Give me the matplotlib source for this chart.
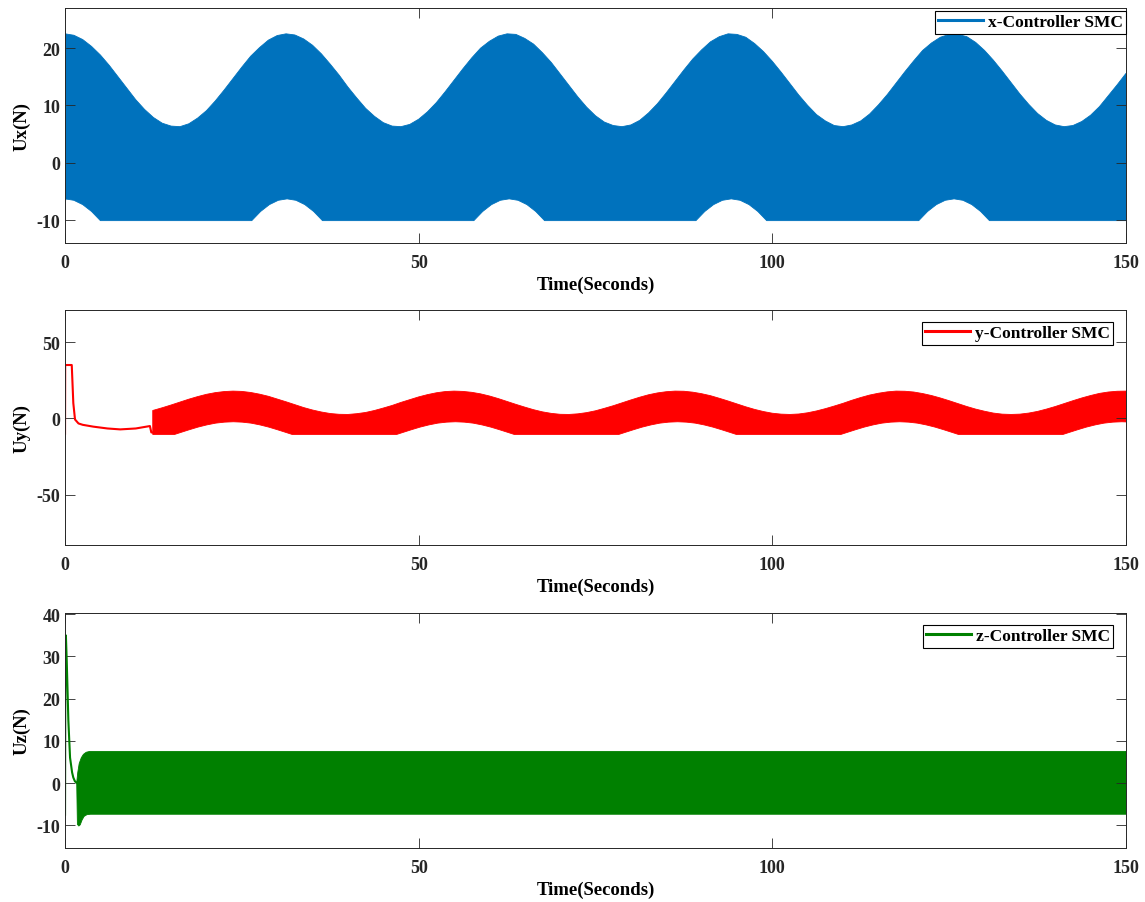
import numpy as np
import matplotlib
matplotlib.use('Agg')
import matplotlib.pyplot as plt
from matplotlib.lines import Line2D

plt.rcParams['font.family'] = ['Liberation Serif', 'DejaVu Serif']
plt.rcParams['font.weight'] = 'bold'
plt.rcParams['font.size'] = 13
plt.rcParams['axes.labelsize'] = 13.5
plt.rcParams['axes.labelweight'] = 'bold'
plt.rcParams['axes.unicode_minus'] = False
plt.rcParams['xtick.direction'] = 'in'
plt.rcParams['ytick.direction'] = 'in'
plt.rcParams['xtick.top'] = True
plt.rcParams['ytick.right'] = True
plt.rcParams['xtick.major.size'] = 7
plt.rcParams['ytick.major.size'] = 7
plt.rcParams['xtick.major.width'] = 0.6
plt.rcParams['ytick.major.width'] = 0.6
plt.rcParams['xtick.major.pad'] = 8
plt.rcParams['axes.linewidth'] = 0.7
plt.rcParams['axes.edgecolor'] = '#262626'
plt.rcParams['xtick.color'] = '#262626'
plt.rcParams['ytick.color'] = '#262626'

# ---- x controller: chattering band, upper / lower envelopes ----
tx_up = np.arange(0, 150.01, 1.25)
ux_up = [22.5, 22.25, 21.5, 20.3, 18.8, 17.0, 15.0, 13.0, 11.0, 9.3, 7.9, 6.9, 6.4,
         6.3, 6.8, 7.8, 9.1, 10.8, 12.7, 14.7, 16.7, 18.6, 20.1, 21.4, 22.2, 22.5,
         22.3, 21.6, 20.5, 19.0, 17.2, 15.3, 13.2, 11.3, 9.5, 8.1, 7.0, 6.4, 6.3,
         6.7, 7.6, 8.9, 10.5, 12.4, 14.4, 16.4, 18.3, 20.0, 21.2, 22.1, 22.5, 22.4,
         21.7, 20.7, 19.2, 17.5, 15.5, 13.5, 11.5, 9.7, 8.2, 7.1, 6.5, 6.3, 6.6,
         7.4, 8.7, 10.3, 12.2, 14.2, 16.2, 18.1, 19.7, 21.1, 22.0, 22.5, 22.4, 21.9,
         20.8, 19.4, 17.7, 15.8, 13.8, 11.8, 10.0, 8.4, 7.3, 6.5, 6.3, 6.6, 7.3,
         8.5, 10.1, 11.9, 13.9, 15.9, 17.8, 19.6, 20.9, 21.9, 22.4, 22.4, 22.0,
         21.0, 19.6, 17.9, 16.0, 14.0, 12.0, 10.2, 8.6, 7.4, 6.6, 6.3, 6.5, 7.2,
         8.3, 9.8, 11.7, 13.6, 15.6]
tx_lo = [0, 1.25, 2.5, 3.75, 5.0,
         26.4, 27.65, 28.9, 30.15, 31.4, 32.65, 33.9, 35.15, 36.4,
         57.8, 59.05, 60.3, 61.55, 62.8, 64.05, 65.3, 66.55, 67.8,
         89.2, 90.45, 91.7, 92.95, 94.2, 95.45, 96.7, 97.95, 99.2,
         120.7, 121.95, 123.2, 124.45, 125.7, 126.95, 128.2, 129.45, 130.7,
         150]
ux_lo = [-6.3, -6.55, -7.3, -8.5, -10.1,
         -10.1, -8.5, -7.3, -6.55, -6.3, -6.55, -7.3, -8.5, -10.1,
         -10.1, -8.5, -7.3, -6.55, -6.3, -6.55, -7.3, -8.5, -10.1,
         -10.1, -8.5, -7.3, -6.55, -6.3, -6.55, -7.3, -8.5, -10.1,
         -10.1, -8.5, -7.3, -6.55, -6.3, -6.55, -7.3, -8.5, -10.1,
         -10.1]

# ---- y controller: initial transient then chattering band ----
ty_init = [0, 0.02, 0.95, 1.17, 1.41, 1.9, 2.5, 4.0, 6.0, 7.8, 10.0, 11.5, 12.0, 12.2, 12.4]
uy_init = [-10, 35, 35, 10, -0.7, -3.3, -4.2, -5.4, -6.6, -7.2, -6.6, -5.4, -5.0, -9.2, -9.2]
ty_up = np.r_[12.4, np.arange(13.75, 150.01, 1.25)]
uy_up = [5.2, 7.0, 8.8, 10.7, 12.6, 14.3, 15.8, 16.9, 17.6, 17.9, 17.7, 17.0, 15.9,
         14.5, 12.7, 10.9, 9.0, 7.1, 5.5, 4.2, 3.2, 2.7, 2.6, 3.1, 3.9, 5.2, 6.8, 8.5,
         10.5, 12.3, 14.1, 15.6, 16.8, 17.6, 17.9, 17.7, 17.1, 16.1, 14.7, 13.0, 11.1,
         9.2, 7.4, 5.7, 4.3, 3.3, 2.7, 2.6, 3.0, 3.8, 5.0, 6.6, 8.3, 10.2, 12.1, 13.9,
         15.5, 16.7, 17.5, 17.9, 17.8, 17.2, 16.2, 14.9, 13.2, 11.4, 9.5, 7.6, 5.9,
         4.5, 3.4, 2.8, 2.6, 2.9, 3.7, 4.9, 6.4, 8.1, 9.9, 11.9, 13.7, 15.3, 16.5,
         17.4, 17.9, 17.8, 17.3, 16.3, 15.0, 13.4, 11.6, 9.7, 7.8, 6.1, 4.7, 3.5, 2.8,
         2.6, 2.8, 3.5, 4.6, 6.1, 7.8, 9.7, 11.6, 13.4, 15.0, 16.4, 17.3, 17.8, 17.9]
ty_lo = [12.4, 15.5, 16.3, 17.55, 18.8, 20.05, 21.3, 22.55, 23.8, 25.05, 26.3, 27.55, 28.8, 30.05, 31.3, 32.1,
         46.9, 47.7, 48.95, 50.2, 51.45, 52.7, 53.95, 55.2, 56.45, 57.7, 58.95, 60.2, 61.45, 62.7, 63.5,
         78.3, 79.1, 80.35, 81.6, 82.85, 84.1, 85.35, 86.6, 87.85, 89.1, 90.35, 91.6, 92.85, 94.1, 94.9,
         109.7, 110.5, 111.75, 113.0, 114.25, 115.5, 116.75, 118.0, 119.25, 120.5, 121.75, 123.0, 124.25, 125.5, 126.3,
         141.1, 141.9, 143.15, 144.4, 145.65, 146.9, 148.15, 149.4, 150]
uy_lo = [-10.5, -10.5, -9.3, -7.45, -5.7, -4.25, -3.1, -2.45, -2.2, -2.45, -3.1, -4.25, -5.7, -7.45, -9.3, -10.5,
         -10.5, -9.3, -7.45, -5.7, -4.25, -3.1, -2.45, -2.2, -2.45, -3.1, -4.25, -5.7, -7.45, -9.3, -10.5,
         -10.5, -9.3, -7.45, -5.7, -4.25, -3.1, -2.45, -2.2, -2.45, -3.1, -4.25, -5.7, -7.45, -9.3, -10.5,
         -10.5, -9.3, -7.45, -5.7, -4.25, -3.1, -2.45, -2.2, -2.45, -3.1, -4.25, -5.7, -7.45, -9.3, -10.5,
         -10.5, -9.3, -7.45, -5.7, -4.25, -3.1, -2.45, -2.2, -2.3]

# ---- z controller: decay then constant-width chattering ----
tz_init = [0, 0.05, 0.12, 0.24, 0.47, 0.71, 1.0, 1.17, 1.4, 1.65]
uz_init = [-7.5, 33.0, 35.0, 29.0, 14.8, 6.0, 2.5, 1.3, 0.4, 0.1]
tz_up = [1.65, 1.8, 2.0, 2.3, 2.6, 3.0, 3.5, 150]
uz_up = [0.1, 2.5, 4.6, 6.0, 6.8, 7.3, 7.5, 7.5]
tz_lo = [1.65, 1.75, 1.95, 2.15, 2.4, 2.7, 3.1, 3.6, 150]
uz_lo = [0.1, -9.8, -10.2, -9.9, -8.8, -7.9, -7.5, -7.4, -7.4]

c_x, c_y, c_z = '#0072BD', '#FF0000', '#008000'


def band(ax, t_up, u_up, t_lo, u_lo, color):
    xs = np.r_[t_up, np.asarray(t_lo)[::-1]]
    ys = np.r_[u_up, np.asarray(u_lo)[::-1]]
    ax.fill(xs, ys, color=color, lw=0.6, ec=color)


fig = plt.figure(figsize=(11.45, 9.03), dpi=100)
ax1 = fig.add_axes([0.0568, 0.7298, 0.9266, 0.2602])
ax2 = fig.add_axes([0.0568, 0.3953, 0.9266, 0.2602])
ax3 = fig.add_axes([0.0568, 0.0598, 0.9266, 0.2602])

band(ax1, tx_up, ux_up, tx_lo, ux_lo, c_x)
ax1.plot([0, 0], [ux_lo[0], ux_up[0]], color=c_x, lw=1)
ax1.set_ylim(-14, 27)
ax1.set_yticks([-10, 0, 10, 20])
ax1.set_ylabel('Ux(N)')

ax2.plot(ty_init, uy_init, color=c_y, lw=1.5)
band(ax2, ty_up, uy_up, ty_lo, uy_lo, c_y)
ax2.set_ylim(-83, 71)
ax2.set_yticks([-50, 0, 50])
ax2.set_ylabel('Uy(N)')

ax3.plot(tz_init, uz_init, color=c_z, lw=1.5)
band(ax3, tz_up, uz_up, tz_lo, uz_lo, c_z)
ax3.set_ylim(-15.4, 40.3)
ax3.set_yticks([-10, 0, 10, 20, 30, 40])
ax3.set_ylabel('Uz(N)')

names = ['x-Controller SMC', 'y-Controller SMC', 'z-Controller SMC']
anchors = [(1.0, 0.988), (0.988, 0.95), (0.988, 0.95)]
for ax, col, name, anc in zip([ax1, ax2, ax3], [c_x, c_y, c_z], names, anchors):
    ax.set_xlim(0, 150)
    ax.set_xticks([0, 50, 100, 150])
    ax.set_xlabel('Time(Seconds)', labelpad=3)
    ax.yaxis.set_label_coords(-0.033, 0.5)
    h = Line2D([], [], color=col, lw=2.2)
    leg = ax.legend([h], [name], loc='upper right', bbox_to_anchor=anc,
                    fancybox=False, framealpha=1, edgecolor='black',
                    borderpad=0.2, handlelength=2.6, handletextpad=0.25,
                    borderaxespad=0, fontsize=12.5)
    leg.get_frame().set_linewidth(0.8)

fig.savefig('out.png', dpi=100)
